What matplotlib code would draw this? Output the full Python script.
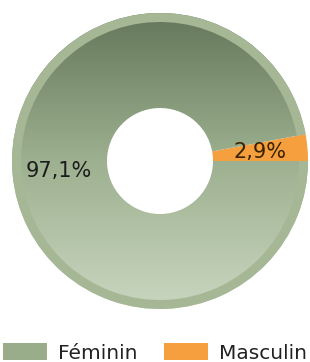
import numpy as np
import matplotlib.pyplot as plt
from matplotlib.patches import Wedge, Rectangle
from matplotlib.colors import LinearSegmentedColormap

labels = ["Féminin", "Masculin"]
values = [97.1, 2.9]
pct_labels = ["97,1%", "2,9%"]
colors = ["#9aad8a", "#f59f3f"]

W, H = 310, 362
fig = plt.figure(figsize=(W / 100, H / 100), dpi=100)
ax = fig.add_axes([0, 0, 1, 1])

cx, cy = 160, H - 161
R, r_in = 148, 53
rim = 9

# Masculin slice ends at 0 deg, Feminin goes round the rest
start = 360 * values[1] / sum(values)
wedges, _ = ax.pie(values, colors=colors, startangle=start, counterclock=True,
                   radius=R, center=(cx, cy), frame=True,
                   wedgeprops=dict(width=R - r_in, linewidth=0))

# vertical gradient on the green slice
wedges[0].set_facecolor("none")
cmap = LinearSegmentedColormap.from_list("g", ["#c9d6c0", "#9db08f", "#64775a"])
grad = np.linspace(0, 1, 256).reshape(-1, 1)
im = ax.imshow(grad, cmap=cmap, extent=(cx - R, cx + R, cy - R, cy + R),
               origin="lower", aspect="auto", zorder=1)
im.set_clip_path(wedges[0])

# lighter rim round the green part
g = wedges[0]
ax.add_patch(Wedge((cx, cy), R, g.theta1, g.theta2, width=rim,
                   facecolor="#a6b796", linewidth=0, zorder=2))

ax.set_xlim(0, W)
ax.set_ylim(0, H)
ax.set_aspect("equal")
ax.axis("off")

# percentage labels
ax.text(59, H - 171, pct_labels[0], ha="center", va="center", fontsize=15,
        color="#1c1c1c", zorder=5)
ax.text(260, H - 152, pct_labels[1], ha="center", va="center", fontsize=15,
        color="#3a2200", zorder=5)

# legend, drawn by hand
leg_x = [3, 164]
for x0, lab, col in zip(leg_x, labels, colors):
    ax.add_patch(Rectangle((x0, H - 360), 44, 17, facecolor=col,
                           linewidth=0, zorder=5))
    ax.text(x0 + 55, H - 359, lab, ha="left", va="baseline", fontsize=14.5,
            color="#222222", zorder=5)

fig.savefig("out.png", dpi=100)
